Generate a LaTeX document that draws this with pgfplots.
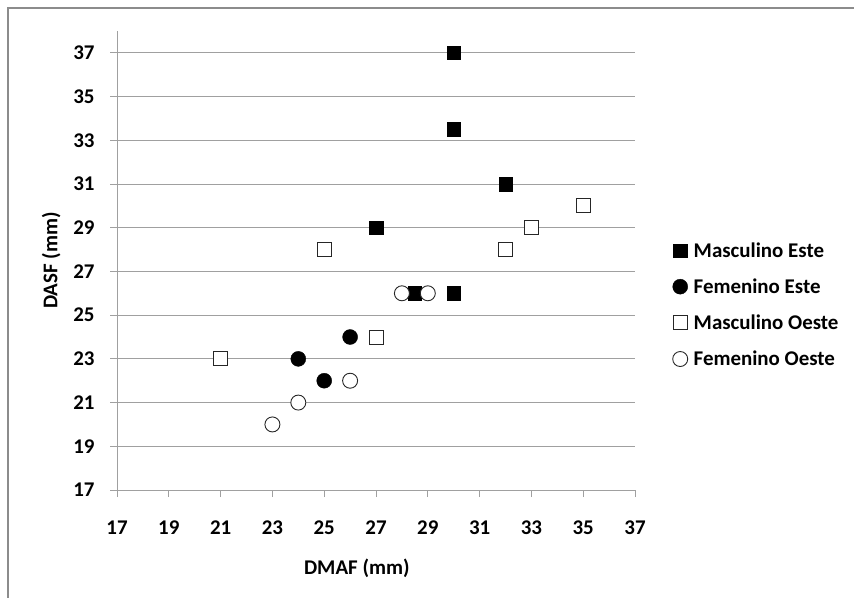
\documentclass[border=0pt]{standalone}
\usepackage{fontspec}
\setmainfont{Carlito}
\usepackage{pgfplots}
\pgfplotsset{compat=1.18}
\definecolor{gridgray}{RGB}{160,160,160}
\definecolor{framegray}{RGB}{140,140,140}
\newcommand{\cf}{\fontsize{21}{25}\selectfont\bfseries}
\begin{document}
\begin{tikzpicture}[x=1bp,y=1bp]
\useasboundingbox (0,0) rectangle (854,-598);
\draw[framegray, line width=1.5bp] (8,-605) -- (8,-8) -- (860,-8);
\begin{axis}[
  at={(117bp,-490bp)}, anchor=south west,
  scale only axis, width=518bp, height=459bp,
  xmin=17, xmax=37, ymin=17, ymax=38,
  xtick={17,19,...,37}, ytick={17,19,...,37},
  axis lines=left, axis line style={-, draw=gridgray, line width=1bp},
  ymajorgrids, grid style={gridgray, line width=1bp},
  tick style={gridgray, line width=1bp}, tick align=outside, major tick length=7bp,
  /pgf/number format/assume math mode=true,
  tick label style={font=\cf},
  xticklabel style={yshift=-20bp},
  yticklabel style={xshift=-12bp},
  xlabel={DMAF (mm)}, ylabel={DASF (mm)},
  label style={font=\cf},
  x label style={at={(axis description cs:0.463,-0.170)}, anchor=center},
  y label style={at={(axis description cs:-0.127,0.5)}, anchor=center},
  legend image code/.code={\draw[#1] plot coordinates {(0bp,0bp)};},
  legend style={at={(1.0724,0.4036)}, anchor=west, draw=none, fill=none,
    font=\cf, inner sep=0pt, row sep=18bp, legend cell align=left,
    nodes={inner sep=1bp}, column sep=5bp},
]
\addplot[only marks, mark=square*, mark size=6.7bp, mark options={fill=black, draw=black}]
  coordinates {(30,37) (30,33.5) (32,31) (27,29) (30,26) (28.5,26)};
\addlegendentry{Masculino Este}
\addplot[only marks, mark=*, mark size=7.5bp, mark options={fill=black, draw=black}]
  coordinates {(24,23) (25,22) (26,24)};
\addlegendentry{Femenino Este}
\addplot[only marks, mark=square*, mark size=7bp, mark options={fill=white, draw=black!85, line width=0.9bp}]
  coordinates {(21,23) (25,28) (27,24) (32,28) (33,29) (35,30)};
\addlegendentry{Masculino Oeste}
\addplot[only marks, mark=*, mark size=7.5bp, mark options={fill=white, draw=black!85, line width=0.9bp}]
  coordinates {(23,20) (24,21) (26,22) (28,26) (29,26)};
\addlegendentry{Femenino Oeste}
\end{axis}
\end{tikzpicture}
\end{document}
